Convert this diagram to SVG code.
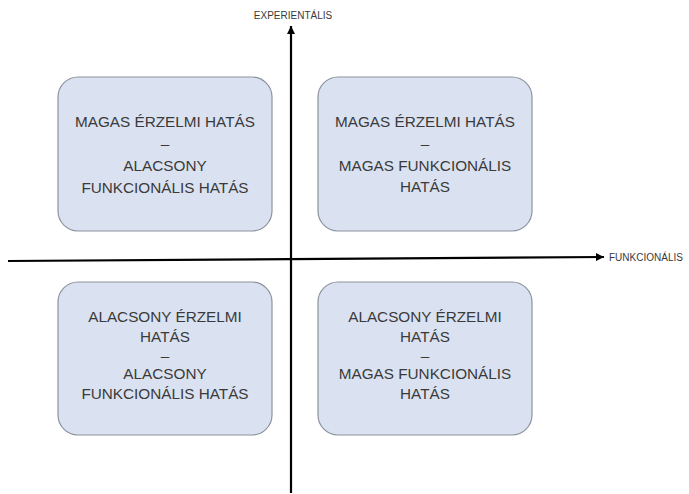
<svg xmlns="http://www.w3.org/2000/svg" width="689" height="494" viewBox="0 0 689 494">
<defs>
<marker id="arr" viewBox="0 0 10 10" refX="10" refY="5" markerWidth="10" markerHeight="8" markerUnits="userSpaceOnUse" orient="auto">
<path d="M0,0 L10,5 L0,10 z" fill="#000"/>
</marker>
</defs>
<style>
.box{fill:#dae2f1;stroke:#8d939e;stroke-width:1.2}
.t{font-family:"Liberation Sans",Arial,sans-serif;font-size:15.3px;fill:#3a3a3a;text-anchor:middle}
.ax{font-family:"Liberation Sans",Arial,sans-serif;font-size:10px;fill:#3a3a3a}
.axis{stroke:#000;stroke-width:2.2;fill:none}
</style>
<rect width="689" height="494" fill="#fff"/>
<g id="connectors">
<line class="axis" x1="8" y1="261" x2="604" y2="257" marker-end="url(#arr)"/>
<line class="axis" x1="291" y1="493" x2="291" y2="26" marker-end="url(#arr)"/>
</g>
<g id="label-experiential"><text class="ax" x="293" y="19" text-anchor="middle">EXPERIENTÁLIS</text></g>
<g id="label-functional"><text class="ax" x="609" y="261">FUNKCIONÁLIS</text></g>
<g id="box-tl">
<rect class="box" x="58" y="77" width="214" height="154" rx="20"/>
<text class="t" x="165" y="127">MAGAS ÉRZELMI HATÁS</text>
<text class="t" x="165" y="149">–</text>
<text class="t" x="165" y="171">ALACSONY</text>
<text class="t" x="165" y="193">FUNKCIONÁLIS HATÁS</text>
</g>
<g id="box-tr">
<rect class="box" x="318" y="77" width="214" height="154" rx="20"/>
<text class="t" x="425" y="127">MAGAS ÉRZELMI HATÁS</text>
<text class="t" x="425" y="149">–</text>
<text class="t" x="425" y="171">MAGAS FUNKCIONÁLIS</text>
<text class="t" x="425" y="192">HATÁS</text>
</g>
<g id="box-bl">
<rect class="box" x="58" y="282" width="214" height="153" rx="20"/>
<text class="t" x="165" y="322">ALACSONY ÉRZELMI</text>
<text class="t" x="165" y="342">HATÁS</text>
<text class="t" x="165" y="361">–</text>
<text class="t" x="165" y="379">ALACSONY</text>
<text class="t" x="165" y="399">FUNKCIONÁLIS HATÁS</text>
</g>
<g id="box-br">
<rect class="box" x="318" y="282" width="214" height="153" rx="20"/>
<text class="t" x="425" y="322">ALACSONY ÉRZELMI</text>
<text class="t" x="425" y="342">HATÁS</text>
<text class="t" x="425" y="361">–</text>
<text class="t" x="425" y="379">MAGAS FUNKCIONÁLIS</text>
<text class="t" x="425" y="399">HATÁS</text>
</g>
</svg>
